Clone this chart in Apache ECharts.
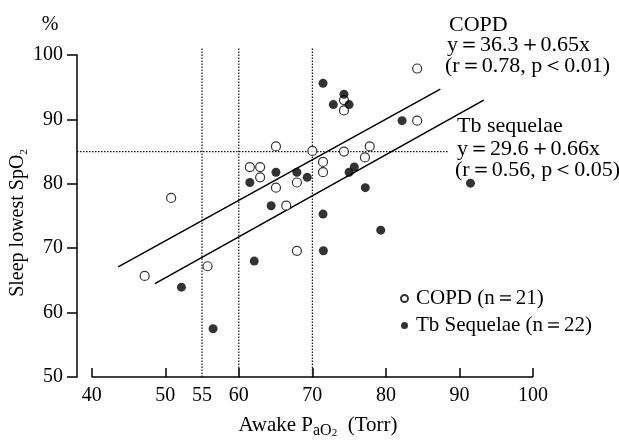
<!DOCTYPE html>
<html>
<head>
<meta charset="utf-8">
<script src="https://cdn.jsdelivr.net/npm/echarts@6/dist/echarts.min.js"></script>
<style>html,body{margin:0;padding:0;background:#fff;}#c{width:619px;height:441px;}</style>
</head>
<body>
<div id="c"></div>
<script>
// ---- data ----
const copdPoints = [
  [47.2, 65.7], [50.8, 77.8], [55.75, 67.2], [61.5, 82.6], [62.9, 82.6],
  [62.9, 81.0], [65.05, 85.8], [65.05, 79.4], [66.45, 76.6], [67.9, 80.2],
  [67.9, 69.6], [70.0, 85.1], [71.45, 83.4], [71.45, 81.8], [74.3, 93.0],
  [74.3, 91.4], [74.3, 85.0], [77.15, 84.1], [77.8, 85.8], [84.25, 97.9],
  [84.25, 89.8]
];
const tbPoints = [
  [52.2, 63.95], [56.5, 57.5], [61.5, 80.2], [62.1, 68.0], [64.4, 76.6],
  [65.05, 81.8], [67.9, 81.8], [69.3, 81.0], [71.45, 95.6], [71.45, 75.3],
  [71.5, 69.6], [72.85, 92.3], [74.3, 93.9], [75.0, 92.3], [75.0, 81.8],
  [75.7, 82.6], [77.2, 79.4], [79.3, 72.8], [82.2, 89.8], [91.5, 80.1]
];
const copdFit = [[43.6, 67.1], [87.4, 94.7]];
const tbFit = [[48.6, 64.5], [93.3, 93.0]];
const vRefX = [55, 60, 70];
const vRefRange = [50, 101];
const hRefY = 85;
const hRefRange = [38, 88.5];
const xAxisSpan = [40, 100];
const xTickValues = [40, 50, 60, 70, 80, 90, 100];
const xLabelValues = [40, 50, 55, 60, 70, 80, 90, 100];
const seriesNames = ['COPD (n\uFF1D21)', 'Tb Sequelae (n\uFF1D22)'];
const copdText = ['COPD', 'y\uFF1D36.3\uFF0B0.65x', '(r\uFF1D0.78, p\uFF1C0.01)'];
const tbText = ['Tb sequelae', 'y\uFF1D29.6\uFF0B0.66x', '(r\uFF1D0.56, p\uFF1C0.05)'];

const FONT = '"Liberation Serif", "Times New Roman", serif';
const chart = echarts.init(document.getElementById('c'), null, {renderer: 'canvas'});

const dotted = {color: '#111', width: 1.2, type: [1.5, 1.5]};
const refSeries = [];
vRefX.forEach(v => {
  refSeries.push({
    type: 'line', data: [[v, vRefRange[0]], [v, vRefRange[1]]], symbol: 'none',
    lineStyle: dotted, clip: false, silent: true, z: 1
  });
});
refSeries.push({
  type: 'line', data: [[hRefRange[0], hRefY], [hRefRange[1], hRefY]], symbol: 'none',
  lineStyle: dotted, clip: false, silent: true, z: 1
});
// x axis baseline (starts at 40, detached from the y axis)
refSeries.push({
  type: 'line', data: [[xAxisSpan[0], 50], [xAxisSpan[1], 50]], symbol: 'none',
  lineStyle: {color: '#000', width: 1.5}, clip: false, silent: true, z: 5
});

function textLines(lines, x, ys, size) {
  return lines.map((t, i) => ({
    type: 'text', x: x[i], y: ys[i],
    style: {text: t, font: size + 'px ' + FONT, fill: '#000', verticalAlign: 'middle', align: 'left'}
  }));
}

chart.setOption({
  backgroundColor: '#fff',
  animation: false,
  grid: {left: 77, right: 86, top: 55, bottom: 64},
  xAxis: {
    type: 'value', min: 38, max: 100,
    axisLine: {show: false},
    axisTick: {show: true, inside: true, length: 9, customValues: xTickValues, lineStyle: {color: '#000', width: 1.5}},
    axisLabel: {customValues: xLabelValues, margin: 9, color: '#000', fontSize: 20, fontFamily: FONT},
    splitLine: {show: false}
  },
  yAxis: {
    type: 'value', min: 50, max: 100, interval: 10,
    axisLine: {show: true, lineStyle: {color: '#000', width: 1.5}},
    axisTick: {show: true, inside: false, length: 10, lineStyle: {color: '#000', width: 1.5}},
    axisLabel: {margin: 14, color: '#000', fontSize: 20, fontFamily: FONT},
    splitLine: {show: false}
  },
  legend: {
    data: seriesNames,
    orient: 'vertical', left: 395, top: 283, itemGap: 6,
    itemWidth: 7, itemHeight: 7,
    textStyle: {color: '#000', fontSize: 21, fontFamily: FONT, padding: [0, 0, 0, 3]}
  },
  series: refSeries.concat([
    {
      type: 'line', data: copdFit, symbol: 'none', silent: true,
      lineStyle: {color: '#000', width: 1.6}, z: 2
    },
    {
      type: 'line', data: tbFit, symbol: 'none', silent: true,
      lineStyle: {color: '#000', width: 1.6}, z: 2
    },
    {
      name: seriesNames[0], type: 'scatter', data: copdPoints, symbol: 'circle', symbolSize: 9,
      itemStyle: {color: '#fff', borderColor: '#000', borderWidth: 1.2}, z: 3
    },
    {
      name: seriesNames[1], type: 'scatter', data: tbPoints, symbol: 'circle', symbolSize: 9,
      itemStyle: {color: '#000', borderColor: '#000', borderWidth: 0}, z: 4
    }
  ]),
  graphic: [].concat(
    textLines(copdText, [449, 447, 445], [25, 45, 66], 22),
    textLines(tbText, [457, 457, 455], [126, 149, 170], 22),
    [
      {type: 'text', x: 50, y: 25, style: {text: '%', font: '20px ' + FONT, fill: '#000', align: 'center', verticalAlign: 'middle'}},
      {
        type: 'text', x: 318, y: 425,
        style: {
          text: 'Awake P{s|aO}{ss|2}  (Torr)', font: '21px ' + FONT, fill: '#000',
          align: 'center', verticalAlign: 'middle',
          rich: {
            s: {fontSize: 16, fontFamily: FONT, padding: [10, 0, 0, 0], verticalAlign: 'bottom'},
            ss: {fontSize: 11, fontFamily: FONT, padding: [16, 0, 0, 0], verticalAlign: 'bottom'}
          }
        }
      },
      {
        type: 'text', x: 18, y: 223, rotation: Math.PI / 2,
        style: {
          text: 'Sleep lowest SpO{s|2}', font: '20px ' + FONT, fill: '#000',
          align: 'center', verticalAlign: 'middle',
          rich: {s: {fontSize: 11, fontFamily: FONT, padding: [12, 0, 0, 0], verticalAlign: 'bottom'}}
        }
      }
    ]
  )
});
</script>
</body>
</html>
